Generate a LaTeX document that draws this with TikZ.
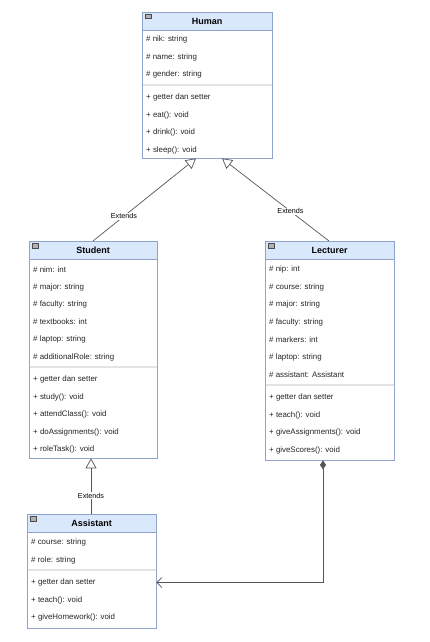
\documentclass[tikz,border=0pt]{standalone}
\usepackage{fontspec}
\setmainfont{Liberation Sans}
\usetikzlibrary{arrows.meta,calc}
\definecolor{umlhead}{HTML}{DAE8FC}
\definecolor{umlline}{HTML}{8EA4CC}
\definecolor{umledge}{HTML}{555555}
\definecolor{umlsep}{HTML}{E4E4E4}
\begin{document}
\begin{tikzpicture}[
    x=1pt, y=-1pt,
    every node/.style={font=\fontsize{7.9}{9}\selectfont},
    classbox/.style={draw=umlline, fill=white, anchor=north west, inner sep=0pt},
    classhead/.style={draw=umlline, fill=umlhead, anchor=north west, minimum height=18pt,
      inner sep=0pt, font=\bfseries\fontsize{9}{10}\selectfont},
    minusbox/.style={draw=black!70, fill=black!30, anchor=north west, minimum width=5.5pt,
      minimum height=4.5pt, inner sep=0pt},
    row/.style={anchor=west, inner sep=0pt, text=black!85},
    sep/.style={draw=umlsep, line width=1.2pt},
    extends/.style={draw=umledge, line width=0.7pt, -{Triangle[open, length=10pt, width=11pt]}},
    composes/.style={draw=umledge, line width=0.7pt,
      {Diamond[length=9pt, width=6pt]}-{Straight Barb[length=5pt, width=10pt]}},
    edgelabel/.style={fill=white, inner sep=1pt, font=\fontsize{7.2}{8}\selectfont}
  ]
  \useasboundingbox[fill=white] (0,0) rectangle (430,642);

  % Human
  \node[classbox, minimum width=130pt, minimum height=146pt] (human) at (142,12) {};
  \node[classhead, minimum width=130pt] (human-head) at (human.north west) {Human};
  \node[minusbox] (human-min) at ([xshift=3pt, yshift=-2pt]human.north west) {};
  \foreach \t [count=\i] in {nik: string, name: string, gender: string}
    \node[row] (human-a\i) at (146, 22+17.5*\i) {\# \t};
  \draw[sep] (142.5,85) -- (271.5,85);
  \foreach \t [count=\i] in {getter dan setter, eat(): void, drink(): void, sleep(): void}
    \node[row] (human-m\i) at (146, 80+17.5*\i) {+ \t};

  % Student
  \node[classbox, minimum width=128pt, minimum height=217pt] (student) at (29,241) {};
  \node[classhead, minimum width=128pt] (student-head) at (student.north west) {Student};
  \node[minusbox] (student-min) at ([xshift=3pt, yshift=-2pt]student.north west) {};
  \foreach \t [count=\i] in {nim: int, major: string, faculty: string, textbooks: int,
      laptop: string, additionalRole: string}
    \node[row] (student-a\i) at (33, 252+17.5*\i) {\# \t};
  \draw[sep] (29.5,367) -- (156.5,367);
  \foreach \t [count=\i] in {getter dan setter, study(): void, attendClass(): void,
      doAssignments(): void, roleTask(): void}
    \node[row] (student-m\i) at (33, 362+17.5*\i) {+ \t};

  % Lecturer
  \node[classbox, minimum width=129pt, minimum height=219pt] (lecturer) at (265,241) {};
  \node[classhead, minimum width=129pt] (lecturer-head) at (lecturer.north west) {Lecturer};
  \node[minusbox] (lecturer-min) at ([xshift=3pt, yshift=-2pt]lecturer.north west) {};
  \foreach \t [count=\i] in {nip: int, course: string, major: string, faculty: string,
      markers: int, laptop: string, assistant: Assistant}
    \node[row] (lecturer-a\i) at (269, 252+17.5*\i) {\# \t};
  \draw[sep] (265.5,385) -- (393.5,385);
  \foreach \t [count=\i] in {getter dan setter, teach(): void, giveAssignments(): void,
      giveScores(): void}
    \node[row] (lecturer-m\i) at (269, 380+17.5*\i) {+ \t};

  % Assistant
  \node[classbox, minimum width=129pt, minimum height=114pt] (assistant) at (27,514) {};
  \node[classhead, minimum width=129pt] (assistant-head) at (assistant.north west) {Assistant};
  \node[minusbox] (assistant-min) at ([xshift=3pt, yshift=-2pt]assistant.north west) {};
  \foreach \t [count=\i] in {course: string, role: string}
    \node[row] (assistant-a\i) at (31, 525+17.5*\i) {\# \t};
  \draw[sep] (27.5,570) -- (155.5,570);
  \foreach \t [count=\i] in {getter dan setter, teach(): void, giveHomework(): void}
    \node[row] (assistant-m\i) at (31, 565+17.5*\i) {+ \t};

  % relations
  \draw[extends] ($(student.north west)+(64,0)$) -- ($(human.south west)+(54,0)$)
    node[edgelabel, pos=0.3] {Extends};
  \draw[extends] ($(lecturer.north west)+(64,0)$) -- ($(human.south west)+(80,0)$)
    node[edgelabel, pos=0.36] {Extends};
  \draw[extends] ($(assistant.north west)+(64,0)$) -- ($(student.south west)+(62,0)$)
    node[edgelabel, pos=0.33] {Extends};
  \draw[composes] ($(lecturer.south west)+(58,0)$) |- (assistant-m1 -| assistant.east);
\end{tikzpicture}
\end{document}
